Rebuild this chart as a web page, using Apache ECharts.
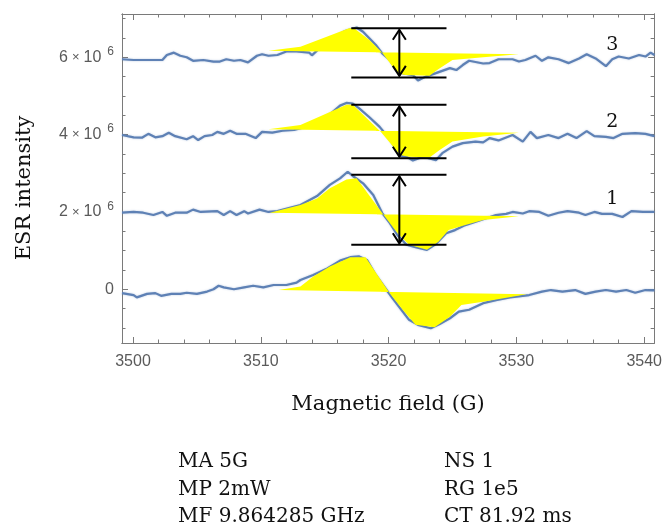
<!DOCTYPE html>
<html>
<head>
<meta charset="utf-8">
<script src="https://cdn.jsdelivr.net/npm/echarts@6/dist/echarts.min.js"></script>
<style>html,body{margin:0;padding:0;background:#fff;}#c{width:665px;height:528px;}</style>
</head>
<body>
<div id="c"></div>
<script>
// Axis ranges (x in G, y in units of 10^6)
const X_MIN = 3499.14, X_MAX = 3540.78;
const Y_MIN = -1.39, Y_MAX = 7.12;
const xMajorTicks = [3500, 3510, 3520, 3530, 3540];
const xMinorTicks = [3502, 3504, 3506, 3508, 3512, 3514, 3516, 3518, 3522, 3524, 3526, 3528, 3532, 3534, 3536, 3538];
const yMajorTicks = [0, 2, 4, 6];
const yMinorTicks = [-1, -0.5, 0.5, 1, 1.5, 2.5, 3, 3.5, 4.5, 5, 5.5, 6.5, 7];

// Spectrum 0 (offset 0)
const spec0 = [[3499.14,-0.10],[3500.05,-0.15],[3500.3,-0.21],[3501.1,-0.12],[3501.75,-0.10],[3502.2,-0.17],[3503.0,-0.12],[3503.7,-0.12],[3504.2,-0.09],[3505.0,-0.12],[3505.8,-0.06],[3506.3,0.0],[3506.7,0.09],[3507.1,0.05],[3507.9,0.0],[3508.7,0.05],[3509.4,0.09],[3510.2,0.05],[3511.0,0.11],[3512.0,0.11],[3512.8,0.17],[3513.1,0.24],[3514.1,0.37],[3515.2,0.54],[3516.2,0.74],[3517.0,0.83],[3517.7,0.85],[3518.3,0.76],[3519.0,0.37],[3519.8,0.0],[3520.3,-0.23],[3521.0,-0.53],[3521.6,-0.79],[3522.3,-0.92],[3523.3,-1.01],[3524.0,-0.90],[3524.8,-0.75],[3525.5,-0.58],[3526.3,-0.53],[3527.4,-0.36],[3528.4,-0.28],[3529.5,-0.21],[3530.5,-0.17],[3531.0,-0.15],[3532.0,-0.06],[3532.7,-0.02],[3533.6,-0.06],[3534.6,-0.02],[3535.4,-0.12],[3536.2,-0.06],[3537.0,-0.02],[3537.8,-0.06],[3538.6,-0.02],[3539.3,-0.09],[3540.1,-0.02],[3540.8,-0.03]];
// Spectrum 1 (offset 2e6)
const spec1 = [[3499.14,1.98],[3500.05,2.0],[3500.8,1.98],[3501.6,1.92],[3502.3,2.0],[3502.65,1.90],[3503.3,1.98],[3504.2,1.98],[3504.7,2.06],[3505.3,2.0],[3506.6,2.02],[3507.1,1.92],[3507.6,2.02],[3508.1,1.92],[3508.7,2.02],[3509.0,1.96],[3509.9,2.06],[3510.6,2.0],[3511.3,2.02],[3512.2,2.1],[3513.1,2.18],[3514.4,2.41],[3515.4,2.70],[3516.2,2.87],[3516.8,3.04],[3517.2,2.93],[3518.0,2.74],[3518.8,2.44],[3519.5,1.97],[3520.1,1.71],[3520.7,1.40],[3521.4,1.15],[3522.1,1.09],[3523.0,1.02],[3523.7,1.17],[3524.5,1.45],[3525.2,1.53],[3526.0,1.66],[3527.4,1.81],[3528.4,1.92],[3529.2,1.95],[3529.7,2.0],[3530.5,1.96],[3531.0,2.02],[3531.8,2.0],[3532.5,1.90],[3533.3,1.98],[3534.0,2.02],[3534.9,1.98],[3535.4,1.92],[3536.1,2.0],[3536.7,1.95],[3537.5,1.95],[3538.3,1.87],[3539.0,2.02],[3539.9,2.0],[3540.8,2.0]];
// Spectrum 2 (offset 4e6)
const spec2 = [[3499.14,3.99],[3500.05,3.93],[3500.7,3.92],[3501.2,4.02],[3501.75,3.93],[3502.3,3.96],[3502.8,4.05],[3503.3,3.96],[3504.2,3.88],[3504.7,3.96],[3505.1,3.86],[3505.6,3.96],[3506.2,3.99],[3506.6,4.07],[3507.1,4.02],[3507.6,4.10],[3508.1,4.02],[3508.8,4.02],[3509.6,3.91],[3510.1,4.07],[3510.9,4.05],[3511.7,4.10],[3512.6,4.12],[3513.5,4.2],[3514.5,4.35],[3515.5,4.55],[3516.2,4.75],[3516.7,4.82],[3517.2,4.80],[3517.7,4.68],[3518.5,4.45],[3519.3,4.2],[3520.1,3.88],[3520.9,3.45],[3521.4,3.43],[3521.9,3.33],[3522.7,3.43],[3523.7,3.34],[3524.2,3.52],[3525.0,3.69],[3525.8,3.78],[3526.8,3.82],[3527.4,3.80],[3527.9,3.91],[3528.6,3.85],[3529.7,3.99],[3530.5,3.82],[3531.1,4.07],[3531.6,3.91],[3532.5,3.99],[3533.3,3.91],[3534.0,4.02],[3534.7,3.91],[3535.5,4.09],[3536.1,3.96],[3537.0,3.94],[3537.6,3.91],[3538.3,4.02],[3539.3,4.04],[3540.1,4.02],[3540.8,3.96]];
// Spectrum 3 (offset 6e6)
const spec3 = [[3499.14,5.95],[3500.05,5.93],[3501.35,5.93],[3502.3,5.93],[3502.65,6.06],[3503.2,6.12],[3503.7,6.04],[3504.2,6.0],[3504.7,5.91],[3505.5,5.93],[3506.3,5.89],[3506.8,5.89],[3507.3,5.95],[3507.9,5.91],[3508.4,5.93],[3509.0,5.87],[3509.7,6.04],[3510.1,6.08],[3510.6,6.04],[3511.3,6.06],[3512.0,6.15],[3512.8,6.15],[3513.8,6.12],[3514.0,6.05],[3514.8,6.3],[3515.7,6.5],[3516.6,6.68],[3517.5,6.77],[3518.0,6.66],[3519.0,6.32],[3519.5,6.10],[3520.1,5.93],[3520.6,5.67],[3521.1,5.59],[3521.9,5.54],[3522.3,5.40],[3522.9,5.50],[3523.7,5.59],[3524.8,5.72],[3525.3,5.67],[3525.8,5.80],[3526.3,5.91],[3527.4,5.84],[3527.9,5.85],[3528.6,5.95],[3529.7,5.95],[3530.2,5.89],[3530.7,5.93],[3531.5,6.04],[3532.0,5.91],[3532.5,6.0],[3533.3,5.95],[3534.1,5.85],[3534.9,5.97],[3535.5,6.08],[3536.2,5.97],[3537.0,5.77],[3537.5,5.95],[3538.0,6.02],[3538.8,5.97],[3539.6,6.06],[3540.1,6.02],[3540.5,6.12],[3540.8,6.06]];

// Yellow shaded (idealized) derivative shapes
const fill0 = [[3511.4,-0.02],[3513.1,0.07],[3514.1,0.33],[3515.4,0.59],[3517.0,0.83],[3518.2,0.83],[3520.1,-0.11],[3521.1,-0.53],[3522.1,-0.92],[3523.6,-0.98],[3524.8,-0.71],[3525.7,-0.41],[3527.4,-0.32],[3530.8,-0.13]];
const fill1 = [[3510.7,1.98],[3513.1,2.18],[3514.4,2.35],[3515.4,2.61],[3516.7,2.84],[3517.5,2.87],[3519.5,1.97],[3520.7,1.45],[3521.6,1.15],[3523.0,1.02],[3523.9,1.23],[3524.7,1.53],[3526.0,1.66],[3527.4,1.79],[3530.2,1.89]];
const fill2 = [[3510.6,4.14],[3513.1,4.25],[3516.7,4.77],[3517.2,4.77],[3519.4,4.07],[3520.9,3.47],[3521.6,3.43],[3523.2,3.41],[3524.0,3.60],[3525.0,3.82],[3527.4,3.95],[3530.2,4.05]];
const fill3 = [[3510.6,6.17],[3513.1,6.27],[3516.9,6.75],[3517.3,6.75],[3518.5,6.45],[3519.5,6.12],[3520.7,5.59],[3521.3,5.54],[3523.2,5.52],[3523.8,5.67],[3525.0,5.93],[3527.4,6.0],[3530.2,6.08]];

// Peak-to-peak markers: [xLeft, xRight, xArrow, yTop, yBottom]
const markers = [[3517.08,3524.53,3520.84,6.75,5.48],[3517.08,3524.53,3520.84,4.77,3.39],[3517.08,3524.53,3520.84,2.96,1.15]];
// Spectrum number labels: [x, y, text]
const numberLabels = [[3537.5,6.31,'3'],[3537.5,4.32,'2'],[3537.5,2.34,'1']];

const paramsLeft = ['MA 5G', 'MP 2mW', 'MF 9.864285 GHz'];
const paramsRight = ['NS 1', 'RG 1e5', 'CT 81.92 ms'];

const FRAME = '#7a7a7a';
const SERIF = '"DejaVu Serif", serif';
const SANS = '"Liberation Sans", Arial, sans-serif';
const LBL = '#5a5a5a';

function axisBase(extra) {
  return Object.assign({
    type: 'value',
    axisLine: { show: true, onZero: false, lineStyle: { color: FRAME, width: 1 } },
    splitLine: { show: false },
    axisLabel: { show: false },
  }, extra);
}

const chart = echarts.init(document.getElementById('c'), null, { renderer: 'canvas' });

function polySeries(pts) {
  return {
    type: 'custom', xAxisIndex: 0, yAxisIndex: 0, z: 5, silent: true,
    data: [[pts[0][0], pts[0][1]]],
    renderItem: function (params, api) {
      return { type: 'polygon', shape: { points: pts.map(p => api.coord(p)) }, style: { fill: '#ffff00' } };
    }
  };
}
function lineSeries(d) {
  return {
    type: 'line', xAxisIndex: 0, yAxisIndex: 0, data: d, symbol: 'none', z: 3, silent: true,
    lineStyle: { color: '#5E81B5', width: 2.2, shadowColor: 'rgba(94,129,181,0.45)', shadowBlur: 2 }
  };
}

const option = {
  animation: false,
  grid: { left: 122, top: 14, right: 9, bottom: 185 },
  xAxis: [
    axisBase({ position: 'bottom', min: X_MIN, max: X_MAX,
      axisTick: { show: true, inside: true, length: 6, customValues: xMajorTicks, lineStyle: { color: FRAME } },
      axisLabel: { show: true, customValues: xMajorTicks, fontSize: 16, color: LBL, margin: 11, fontFamily: SANS,
        formatter: function (v) { return String(v); } },
      name: 'Magnetic field (G)', nameLocation: 'middle', nameGap: 51,
      nameTextStyle: { fontFamily: SERIF, fontSize: 21, color: '#111' } }),
    axisBase({ position: 'bottom', min: X_MIN, max: X_MAX,
      axisTick: { show: true, inside: true, length: 3.5, customValues: xMinorTicks, lineStyle: { color: FRAME } } }),
    axisBase({ position: 'top', min: X_MIN, max: X_MAX,
      axisTick: { show: true, inside: true, length: 6, customValues: xMajorTicks, lineStyle: { color: FRAME } } }),
    axisBase({ position: 'top', min: X_MIN, max: X_MAX,
      axisTick: { show: true, inside: true, length: 3.5, customValues: xMinorTicks, lineStyle: { color: FRAME } } })
  ],
  yAxis: [
    axisBase({ position: 'left', min: Y_MIN, max: Y_MAX,
      axisTick: { show: true, inside: true, length: 6, customValues: yMajorTicks, lineStyle: { color: FRAME } },
      axisLabel: { show: true, customValues: yMajorTicks, margin: 8, color: LBL, fontSize: 16, fontFamily: SANS,
        formatter: function (v) { return v === 0 ? '{n|0}' : '{n|' + v + '}{x|×}{n|10}{s|6}'; },
        rich: {
          n: { fontSize: 16, color: LBL, fontFamily: SANS },
          x: { fontSize: 13, color: LBL, fontFamily: SANS, padding: [0, 4, 0, 4] },
          s: { fontSize: 12, color: LBL, lineHeight: 12, padding: [0, 0, 11, 6], fontFamily: SANS }
        } },
      name: '', nameLocation: 'middle' }),
    axisBase({ position: 'left', min: Y_MIN, max: Y_MAX,
      axisTick: { show: true, inside: true, length: 3.5, customValues: yMinorTicks, lineStyle: { color: FRAME } } }),
    axisBase({ position: 'right', min: Y_MIN, max: Y_MAX,
      axisTick: { show: true, inside: true, length: 6, customValues: yMajorTicks, lineStyle: { color: FRAME } } }),
    axisBase({ position: 'right', min: Y_MIN, max: Y_MAX,
      axisTick: { show: true, inside: true, length: 3.5, customValues: yMinorTicks, lineStyle: { color: FRAME } } })
  ],
  series: [
    lineSeries(spec0), lineSeries(spec1), lineSeries(spec2), lineSeries(spec3),
    polySeries(fill0), polySeries(fill1), polySeries(fill2), polySeries(fill3),
    {
      type: 'custom', xAxisIndex: 0, yAxisIndex: 0, z: 8, silent: true,
      data: markers,
      renderItem: function (params, api) {
        const xl = api.value(0), xr = api.value(1), xa = api.value(2), yt = api.value(3), yb = api.value(4);
        const tl = api.coord([xl, yt]), tr = api.coord([xr, yt]);
        const bl = api.coord([xl, yb]), br = api.coord([xr, yb]);
        const at = api.coord([xa, yt]), ab = api.coord([xa, yb]);
        const st = { stroke: '#000', lineWidth: 2, fill: null };
        const aw = 6.5, ah = 10;
        return { type: 'group', children: [
          { type: 'line', shape: { x1: tl[0], y1: tl[1], x2: tr[0], y2: tr[1] }, style: st },
          { type: 'line', shape: { x1: bl[0], y1: bl[1], x2: br[0], y2: br[1] }, style: st },
          { type: 'line', shape: { x1: at[0], y1: at[1] + 1.5, x2: ab[0], y2: ab[1] - 1.5 }, style: st },
          { type: 'polyline', shape: { points: [[at[0] - aw, at[1] + 1.5 + ah], [at[0], at[1] + 1.5], [at[0] + aw, at[1] + 1.5 + ah]] }, style: st },
          { type: 'polyline', shape: { points: [[ab[0] - aw, ab[1] - 1.5 - ah], [ab[0], ab[1] - 1.5], [ab[0] + aw, ab[1] - 1.5 - ah]] }, style: st }
        ] };
      }
    },
    {
      type: 'custom', xAxisIndex: 0, yAxisIndex: 0, z: 8, silent: true,
      data: numberLabels.map(d => [d[0], d[1]]),
      renderItem: function (params, api) {
        const p = api.coord([api.value(0), api.value(1)]);
        return { type: 'text', x: p[0], y: p[1], style: { text: numberLabels[params.dataIndex][2], fontFamily: SERIF, fontSize: 19, fill: '#111', align: 'center', verticalAlign: 'middle' } };
      }
    }
  ],
  graphic: [].concat(
    [{ type: 'text', x: 25, y: 188, rotation: Math.PI / 2, style: { text: 'ESR intensity', fontFamily: SERIF, fontSize: 21, fill: '#111', align: 'center', verticalAlign: 'middle' } }],
    paramsLeft.map((t, i) => ({ type: 'text', left: 178, top: 452 + i * 27.5, style: { text: t, fontFamily: SERIF, fontSize: 20, fill: '#111' } })),
    paramsRight.map((t, i) => ({ type: 'text', left: 444, top: 452 + i * 27.5, style: { text: t, fontFamily: SERIF, fontSize: 20, fill: '#111' } }))
  )
};
chart.setOption(option);
</script>
</body>
</html>
